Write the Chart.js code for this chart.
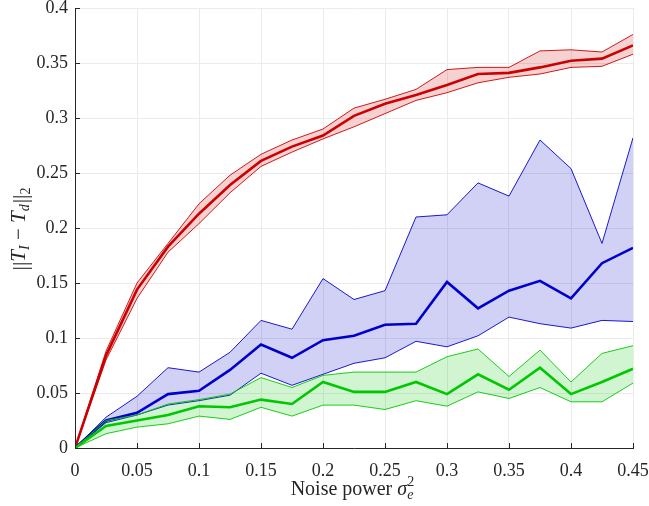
<!DOCTYPE html>
<html>
<head>
<meta charset="utf-8">
<script src="https://cdn.jsdelivr.net/npm/chart.js@4.4.1/dist/chart.umd.min.js"></script>
<style>
  html, body { margin: 0; padding: 0; background: #ffffff; }
  #wrap { width: 649px; height: 506px; position: relative; }
</style>
</head>
<body>
<div id="wrap"><canvas id="c" width="649" height="506"></canvas></div>
<script>
// Noise power values (x axis)
const noisePower = [0, 0.025, 0.05, 0.075, 0.1, 0.125, 0.15, 0.175, 0.2, 0.225, 0.25, 0.275, 0.3, 0.325, 0.35, 0.375, 0.4, 0.425, 0.45];

// Red series
const redMean  = [0, 0.084, 0.144, 0.183, 0.213, 0.239, 0.261, 0.274, 0.284, 0.302, 0.313, 0.321, 0.330, 0.340, 0.341, 0.346, 0.352, 0.354, 0.366];
const redUpper = [0, 0.088, 0.150, 0.186, 0.222, 0.248, 0.267, 0.280, 0.290, 0.309, 0.317, 0.326, 0.344, 0.346, 0.346, 0.361, 0.362, 0.360, 0.376];
const redLower = [0, 0.080, 0.136, 0.178, 0.204, 0.232, 0.256, 0.269, 0.281, 0.292, 0.304, 0.316, 0.323, 0.332, 0.337, 0.340, 0.346, 0.347, 0.358];

// Blue series
const blueMean  = [0, 0.025, 0.032, 0.049, 0.052, 0.071, 0.094, 0.082, 0.098, 0.102, 0.112, 0.113, 0.151, 0.127, 0.143, 0.152, 0.136, 0.168, 0.182];
const blueUpper = [0, 0.028, 0.047, 0.073, 0.069, 0.087, 0.116, 0.108, 0.154, 0.135, 0.143, 0.210, 0.212, 0.241, 0.229, 0.280, 0.254, 0.186, 0.282];
const blueLower = [0, 0.023, 0.030, 0.039, 0.043, 0.048, 0.068, 0.057, 0.067, 0.077, 0.082, 0.097, 0.092, 0.102, 0.119, 0.113, 0.109, 0.116, 0.115];

// Green series
const greenMean  = [0, 0.020, 0.025, 0.030, 0.038, 0.037, 0.044, 0.040, 0.060, 0.051, 0.051, 0.060, 0.049, 0.067, 0.053, 0.073, 0.049, 0.060, 0.072];
const greenUpper = [0, 0.025, 0.030, 0.040, 0.044, 0.049, 0.064, 0.055, 0.066, 0.069, 0.069, 0.069, 0.083, 0.090, 0.065, 0.089, 0.060, 0.086, 0.093];
const greenLower = [0, 0.013, 0.019, 0.022, 0.029, 0.026, 0.037, 0.029, 0.039, 0.039, 0.035, 0.043, 0.038, 0.051, 0.045, 0.055, 0.042, 0.042, 0.059];

// Tick values
const xTicks = [0, 0.05, 0.1, 0.15, 0.2, 0.25, 0.3, 0.35, 0.4, 0.45];
const yTicks = [0, 0.05, 0.1, 0.15, 0.2, 0.25, 0.3, 0.35, 0.4];

const SERIF = "'Liberation Serif', 'DejaVu Serif', serif";
const AXIS_COLOR = '#262626';
Chart.defaults.font.family = SERIF;
Chart.defaults.color = AXIS_COLOR;

function pts(arr) { return arr.map((y, i) => ({ x: noisePower[i], y: y })); }

function group(mean, upper, lower, line, fillCol) {
  return [
    { data: pts(mean),  borderColor: line, borderWidth: 2.6, fill: false },
    { data: pts(upper), borderColor: line, borderWidth: 0.9, backgroundColor: fillCol, fill: '+1' },
    { data: pts(lower), borderColor: line, borderWidth: 0.9, fill: false }
  ];
}

const datasets = [].concat(
  group(greenMean, greenUpper, greenLower, '#00c800', 'rgba(0,200,0,0.18)'),
  group(blueMean, blueUpper, blueLower, '#0000cc', 'rgba(0,0,204,0.18)'),
  group(redMean, redUpper, redLower, '#cc0000', 'rgba(204,0,0,0.18)')
);

function fmt(v) { return String(Number(v.toFixed(3))); }

const inwardTicks = {
  id: 'inwardTicks',
  afterDraw(chart) {
    const ctx = chart.ctx;
    const xs = chart.scales.x, ys = chart.scales.y;
    const a = chart.chartArea;
    ctx.save();
    ctx.strokeStyle = AXIS_COLOR;
    ctx.lineWidth = 1;
    ctx.beginPath();
    xTicks.forEach(v => {
      const px = Math.round(xs.getPixelForValue(v)) + 0.5;
      ctx.moveTo(px, a.bottom);
      ctx.lineTo(px, a.bottom - 5);
    });
    yTicks.forEach(v => {
      const py = Math.round(ys.getPixelForValue(v)) + 0.5;
      ctx.moveTo(a.left, py);
      ctx.lineTo(a.left + 5, py);
    });
    ctx.stroke();
    ctx.restore();
  }
};

function drawRich(ctx, parts, cx, baseline) {
  let total = 0;
  const widths = parts.map(p => { ctx.font = p.font; return ctx.measureText(p.t).width + (p.extra || 0); });
  parts.forEach((p, i) => { if (!p.overlay) total += widths[i]; });
  let x = cx - total / 2;
  let lastX = x;
  parts.forEach((p, i) => {
    ctx.font = p.font;
    if (p.overlay) {
      ctx.fillText(p.t, lastX, baseline + (p.dy || 0));
    } else {
      lastX = x;
      ctx.fillText(p.t, x + (p.dx || 0), baseline + (p.dy || 0));
      x += widths[i];
    }
  });
}

const axisTitles = {
  id: 'axisTitles',
  afterDraw(chart) {
    const ctx = chart.ctx;
    const a = chart.chartArea;
    ctx.save();
    ctx.fillStyle = AXIS_COLOR;
    ctx.textBaseline = 'alphabetic';
    ctx.textAlign = 'left';
    // X title
    const cx = (a.left + a.right) / 2 - 2;
    drawRich(ctx, [
      { t: 'Noise power ', font: "20px " + SERIF },
      { t: '\u03C3', font: "italic 20px " + SERIF },
      { t: 'e', font: "italic 14px " + SERIF, dy: 4 },
      { t: '2', font: "14px " + SERIF, dy: -9, overlay: true }
    ], cx, 495);
    // Y title
    ctx.translate(25, (a.top + a.bottom) / 2 + 1);
    ctx.rotate(-Math.PI / 2);
    drawRich(ctx, [
      { t: '||', font: "22px " + SERIF, dy: 2 },
      { t: 'T', font: "italic 21px " + SERIF },
      { t: 'I', font: "italic 14px " + SERIF, dy: 4 },
      { t: ' \u2212 ', font: "21px " + SERIF },
      { t: 'T', font: "italic 21px " + SERIF },
      { t: 'd', font: "italic 14px " + SERIF, dy: 4, extra: 1 },
      { t: '||', font: "22px " + SERIF, dy: 2 },
      { t: '2', font: "14px " + SERIF, dy: 5 }
    ], 0, 0);
    ctx.restore();
  }
};

new Chart(document.getElementById('c'), {
  type: 'line',
  data: { datasets: datasets },
  options: {
    responsive: false,
    animation: false,
    devicePixelRatio: 1,
    layout: { padding: { top: 8, right: 16, left: 0, bottom: 0 } },
    elements: { point: { radius: 0 }, line: { tension: 0 } },
    plugins: { legend: { display: false }, tooltip: { enabled: false } },
    scales: {
      x: {
        type: 'linear', min: 0, max: 0.45,
        afterBuildTicks: s => { s.ticks = xTicks.map(v => ({ value: v })); },
        afterFit: s => { s.height = 58; s.paddingLeft = 0; s.paddingRight = 0; },
        ticks: { color: AXIS_COLOR, font: { family: SERIF, size: 18 }, padding: 12, maxRotation: 0, autoSkip: false,
                 callback: v => fmt(v) },
        grid: { color: '#ebebeb', lineWidth: 1, drawTicks: false },
        border: { display: true, color: AXIS_COLOR, width: 1 }
      },
      y: {
        type: 'linear', min: 0, max: 0.4,
        afterBuildTicks: s => { s.ticks = yTicks.map(v => ({ value: v })); },
        afterFit: s => { s.width = 75; s.paddingTop = 0; s.paddingBottom = 0; },
        ticks: { color: AXIS_COLOR, font: { family: SERIF, size: 18 }, padding: 7, autoSkip: false,
                 callback: v => fmt(v) },
        grid: { color: '#ebebeb', lineWidth: 1, drawTicks: false },
        border: { display: true, color: AXIS_COLOR, width: 1 }
      }
    }
  },
  plugins: [inwardTicks, axisTitles]
});
</script>
</body>
</html>
